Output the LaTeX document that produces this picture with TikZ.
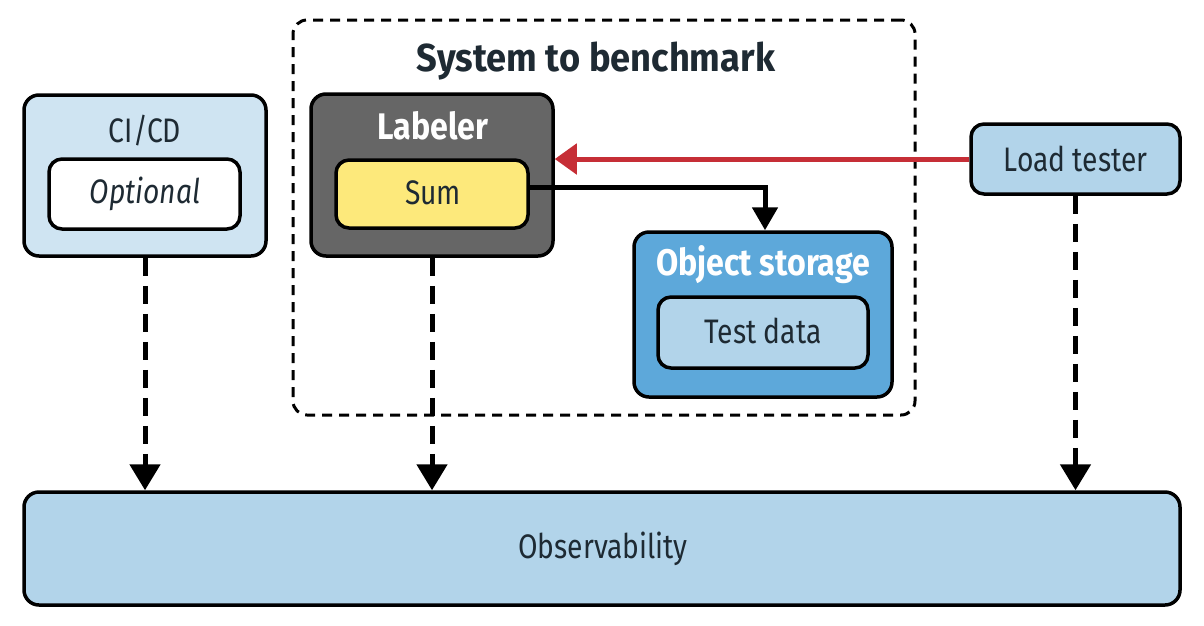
\documentclass[tikz,border=0pt]{standalone}
\usepackage{fontspec}
\setmainfont{Fira Sans}[FakeStretch=0.83]
\newfontfamily\boldA{Fira Sans}[FakeStretch=0.87]
\newfontfamily\boldT{Fira Sans}[FakeStretch=0.93]
\usetikzlibrary{arrows.meta}
\definecolor{lightblue}{HTML}{B2D4EA}
\definecolor{paleblue}{HTML}{CFE4F2}
\definecolor{darkgray}{HTML}{666666}
\definecolor{sumyellow}{HTML}{FDE97B}
\definecolor{midblue}{HTML}{5DA8DA}
\definecolor{redarrow}{HTML}{C62E36}
\definecolor{textdark}{HTML}{1E2A33}
\tikzset{
  box/.style={draw=black, line width=3.5pt, rounded corners=15pt, inner sep=0pt},
  inbox/.style={draw=black, line width=3.5pt, rounded corners=13pt, inner sep=0pt},
  lbl/.style={font=\fontsize{34}{40}\selectfont, text=textdark, inner sep=0pt},
  title/.style={font=\boldA\fontsize{37}{44}\selectfont\bfseries, inner sep=0pt},
  dasharrow/.style={line width=5pt, dash pattern=on 18pt off 10pt, -{Triangle[width=30pt,length=26pt]}},
}
\begin{document}
\begin{tikzpicture}[x=1pt,y=-1pt]
\useasboundingbox (0,0) rectangle (1204,625);
% system box
\node[draw=black, line width=3pt, dash pattern=on 10pt off 7pt, rounded corners=14pt, minimum width=622pt, minimum height=395pt, inner sep=0pt] (sys) at (604,217.5) {};
\node[title, font=\boldT\fontsize{39}{46}\selectfont\bfseries, text=textdark] (systitle) at (596,61) {System to benchmark};
% CI/CD
\node[box, fill=paleblue, minimum width=242pt, minimum height=161pt] (ci) at (145,175.5) {};
\node[lbl] (citxt) at (145,131) {CI/CD};
\node[inbox, fill=white, minimum width=191pt, minimum height=70pt] (opt) at (144.5,194) {};
\node[lbl, font=\fontsize{34}{40}\selectfont\itshape] (opttxt) at (145,194) {Optional};
% Labeler
\node[box, fill=darkgray, minimum width=242pt, minimum height=162pt] (lab) at (432,175) {};
\node[title, text=white] (labtxt) at (433,126) {Labeler};
\node[inbox, fill=sumyellow, minimum width=192pt, minimum height=68pt] (sum) at (432,194) {};
\node[lbl] (sumtxt) at (433,193) {Sum};
% Object storage
\node[box, fill=midblue, minimum width=258pt, minimum height=165pt] (obj) at (763,314.5) {};
\node[title, text=white] (objtxt) at (763,265) {Object storage};
\node[inbox, fill=lightblue, minimum width=210pt, minimum height=71pt] (test) at (763,332.5) {};
\node[lbl] (testtxt) at (763,331) {Test data};
% Load tester
\node[box, rounded corners=13pt, fill=lightblue, minimum width=209pt, minimum height=70pt] (load) at (1075.5,159) {};
\node[lbl] (loadtxt) at (1075.5,159) {Load tester};
% Observability
\node[box, fill=lightblue, minimum width=1156pt, minimum height=113pt] (obs) at (602,548.5) {};
\node[lbl] (obstxt) at (603,549) {Observability};
% arrows
\draw[redarrow, line width=5pt, -{Triangle[width=30pt,length=22pt]}] (load.west) -- (lab.east |- load.west);
\coordinate (bend) at (765,187);
\draw[black, line width=5pt, -{Triangle[width=25pt,length=23pt]}] (sum.east |- bend) -- (bend) -- (obj.north -| bend);
\draw[dasharrow] (ci.south) -- (obs.north -| ci.south);
\draw[dasharrow] (lab.south) -- (obs.north -| lab.south);
\draw[dasharrow] (load.south) -- (obs.north -| load.south);
\end{tikzpicture}
\end{document}
